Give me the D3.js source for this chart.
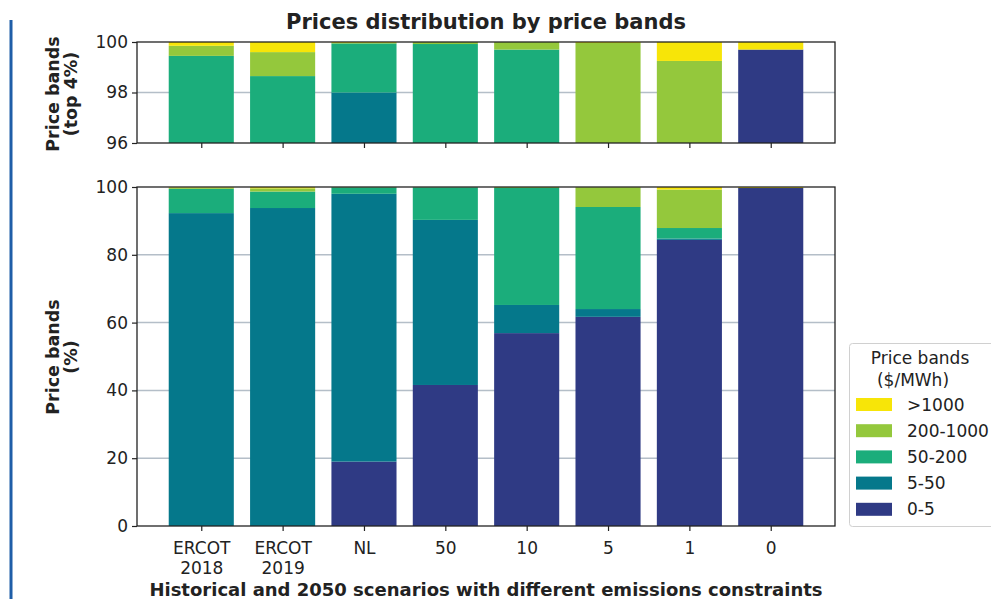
<!DOCTYPE html>
<html><head><meta charset="utf-8">
<script src="https://cdn.jsdelivr.net/npm/d3@7"></script>
<style>body{margin:0;background:#fff}svg{display:block;font-family:"DejaVu Sans",sans-serif}</style>
</head><body><svg id="c" width="991" height="599"></svg>
<script>
const categories = ["ERCOT\n2018","ERCOT\n2019","NL","50","10","5","1","0"];
const bands = ["0-5","5-50","50-200","200-1000",">1000"];
const band0_5     = [0,    0,    19.0, 41.6, 56.9, 61.7, 84.4, 99.7];
const band5_50    = [92.3, 93.8, 79.0, 48.7, 8.3,  2.3,  0.4,  0];
const band50_200  = [7.15, 4.85, 1.95, 9.62, 34.5, 30.1, 3.1,  0];
const band200_1000= [0.4,  0.95, 0.0,  0.08, 0.3,  5.86, 11.35,0];
const band1000    = [0.15, 0.4,  0.05, 0,    0,    0.04, 0.75, 0.3];
const colors = ["#2f3a84","#05788b","#1bad7b","#94c83c","#f7e508"];
const bottomTicks = [0,20,40,60,80,100];
const topTicks = [96,98,100];

const series = [band0_5, band5_50, band50_200, band200_1000, band1000];
const rows = categories.map((c,i)=>{const r={cat:c,idx:i}; bands.forEach((b,j)=>r[b]=series[j][i]); return r;});
const stacked = d3.stack().keys(bands)(rows);

const svg = d3.select("#c");
const L=137, R=835;
const x = d3.scaleLinear().domain([-0.79, 7.79]).range([L,R]);
const bw = x(0.4)-x(-0.4);
const gridC="#b4bec8", axC="#222";
const FS=17;

svg.append("line").attr("x1",11).attr("x2",11).attr("y1",20).attr("y2",599).attr("stroke","#1f5ea8").attr("stroke-width",3);

function panel(y0,y1,dom,ticks,grid,showX){
  const y = d3.scaleLinear().domain(dom).range([y1,y0]);
  const g = svg.append("g");
  const clipId="clip"+y0;
  svg.append("clipPath").attr("id",clipId).append("rect").attr("x",L).attr("y",y0).attr("width",R-L).attr("height",y1-y0);
  g.selectAll(".grid").data(grid).join("line").attr("x1",L).attr("x2",R).attr("y1",d=>y(d)).attr("y2",d=>y(d)).attr("stroke",gridC).attr("stroke-width",1.5);
  const bars=g.append("g").attr("clip-path",`url(#${clipId})`);
  stacked.forEach((s,j)=>{
    bars.selectAll(null).data(s).join("rect")
      .attr("x",d=>x(d.data.idx)-bw/2).attr("width",bw)
      .attr("y",d=>y(Math.max(d[1],dom[0]))).attr("height",d=>Math.max(0,y(Math.max(d[0],dom[0]))-y(Math.max(d[1],dom[0]))))
      .attr("fill",colors[j]);
  });
  g.append("rect").attr("x",L).attr("y",y0).attr("width",R-L).attr("height",y1-y0).attr("fill","none").attr("stroke",axC).attr("stroke-width",1.3);
  const ya = g.append("g").attr("transform",`translate(${L},0)`).call(d3.axisLeft(y).tickValues(ticks).tickSize(5).tickPadding(4).tickFormat(d3.format("d")));
  ya.select(".domain").remove();
  ya.selectAll("text").attr("font-size",FS).attr("fill","#222").attr("font-family","DejaVu Sans");
  ya.selectAll("line").attr("stroke",axC).attr("stroke-width",1.2);
  const xa = g.append("g").attr("transform",`translate(0,${y1})`).call(d3.axisBottom(x).tickValues(d3.range(categories.length)).tickSize(5).tickFormat(""));
  xa.select(".domain").remove();
  xa.selectAll("line").attr("stroke",axC).attr("stroke-width",1.2);
  if(showX){
    xa.selectAll(".tick").each(function(d){
      const t=d3.select(this).append("text").attr("fill","#222").attr("font-size",FS).attr("text-anchor","middle").attr("font-family","DejaVu Sans");
      categories[d].split("\n").forEach((ln,k)=>t.append("tspan").attr("x",0).attr("y",28+k*20).text(ln));
    });
  }
  return y;
}
panel(42,143,[96,100],topTicks,[98],false);
panel(187,526,[0,100],bottomTicks,[20,40,60,80],true);

svg.append("text").attr("x",486).attr("y",29).attr("text-anchor","middle").attr("font-weight","bold").attr("font-size",21).attr("fill","#222").text("Prices distribution by price bands");
svg.append("text").attr("x",486).attr("y",596).attr("text-anchor","middle").attr("font-weight","bold").attr("font-size",18).attr("fill","#222").text("Historical and 2050 scenarios with different emissions constraints");
function ylab(cy,lines){
  const t=svg.append("text").attr("transform",`translate(62,${cy}) rotate(-90)`).attr("text-anchor","middle").attr("font-weight","bold").attr("font-size",17.5).attr("fill","#222");
  lines.forEach((ln,k)=>t.append("tspan").attr("x",0).attr("y",(k-0.5)*18+6).text(ln));
}
ylab(94,["Price bands","(top 4%)"]);
ylab(357,["Price bands","(%)"]);

const lg=svg.append("g");
lg.append("rect").attr("x",849.5).attr("y",343.5).attr("width",150).attr("height",183).attr("rx",3).attr("fill","#fff").attr("stroke","#d0d0d0");
lg.append("text").attr("x",920).attr("y",364).attr("text-anchor","middle").attr("font-size",FS).attr("fill","#222").text("Price bands");
lg.append("text").attr("x",913).attr("y",386).attr("text-anchor","middle").attr("font-size",FS).attr("fill","#222").text("($/MWh)");
const legItems=[4,3,2,1,0];
legItems.forEach((j,k)=>{
  const yy=398+k*26.2;
  lg.append("rect").attr("x",856).attr("y",yy).attr("width",36).attr("height",13).attr("fill",colors[j]);
  lg.append("text").attr("x",907).attr("y",yy+12.5).attr("font-size",FS).attr("fill","#222").text(bands[j]);
});
</script></body></html>
